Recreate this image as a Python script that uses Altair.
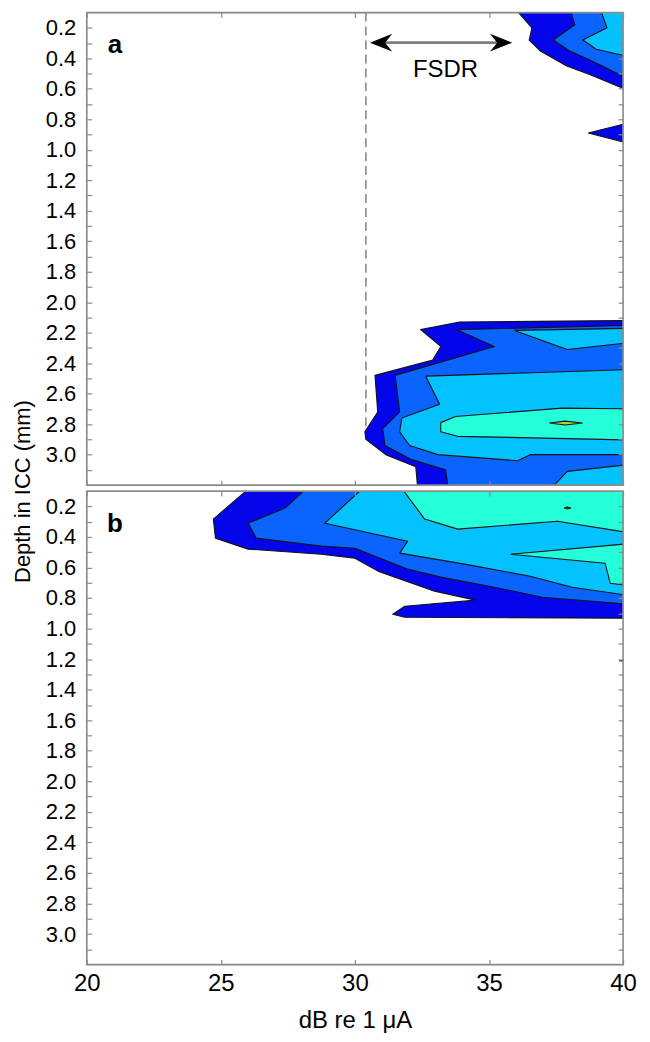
import altair as alt
import pandas as pd

FONT = "Liberation Sans"
GRAY = "#8c8c8c"

# ---------------- axes ----------------
X_DOMAIN = [20, 40]
Y_DOMAIN = [0.1, 3.2]
X_TICKS = [20, 25, 30, 35, 40]
Y_TICKS = [0.2, 0.3, 0.4, 0.5, 0.6, 0.7, 0.8, 0.9, 1.0, 1.1, 1.2, 1.3, 1.4, 1.5,
           1.6, 1.7, 1.8, 1.9, 2.0, 2.1, 2.2, 2.3, 2.4, 2.5, 2.6, 2.7, 2.8, 2.9,
           3.0, 3.1]

LEVEL_COLORS = ["#0505ec", "#0a64ff", "#04c2ff", "#24ffda", "#b2d23c"]

# ---------------- panel a contours (dB re 1 uA, depth mm) ----------------
A_L1_TOP_DB = [35.6, 36.6, 36.5, 36.9, 37.9, 38.8, 39.9, 40.5, 40.5]
A_L1_TOP_DEPTH = [0.0, 0.20, 0.28, 0.35, 0.45, 0.51, 0.59, 0.60, 0.0]
A_L2_TOP_DB = [37.9, 38.2, 37.4, 38.0, 39.0, 39.9, 40.5, 40.5]
A_L2_TOP_DEPTH = [0.0, 0.18, 0.28, 0.35, 0.43, 0.51, 0.52, 0.0]
A_L3_TOP_DB = [39.0, 39.4, 38.5, 39.0, 40.5, 40.5]
A_L3_TOP_DEPTH = [0.0, 0.20, 0.28, 0.34, 0.40, 0.0]
A_L1_SPOT_DB = [38.7, 40.5, 40.5]
A_L1_SPOT_DEPTH = [0.89, 0.81, 0.97]

A_L1_LOW_DB = [40.5, 33.9, 32.45, 33.2, 32.9, 30.75, 30.85, 30.37, 30.41, 31.15,
               32.27, 32.38, 40.5]
A_L1_LOW_DEPTH = [2.12, 2.13, 2.18, 2.29, 2.38, 2.48, 2.72, 2.85, 2.90, 3.00,
                  3.08, 3.30, 3.30]
A_L2_LOW_DB = [40.5, 33.8, 35.2, 31.5, 31.67, 31.04, 31.12, 32.08, 33.38, 33.55, 40.5]
A_L2_LOW_DEPTH = [2.15, 2.18, 2.29, 2.48, 2.72, 2.83, 2.94, 3.03, 3.10, 3.30, 3.30]
A_L3_SLIVER_DB = [35.95, 37.92, 40.5, 40.5]
A_L3_SLIVER_DEPTH = [2.185, 2.31, 2.26, 2.17]
A_L3_MAIN_DB = [32.64, 40.5, 40.5, 36.54, 36.06, 33.09, 32.04, 31.67, 31.75, 33.16]
A_L3_MAIN_DEPTH = [2.485, 2.44, 3.00, 3.00, 3.04, 3.00, 2.94, 2.85, 2.76, 2.67]
A_L3_CORNER_DB = [36.9, 37.92, 40.5, 40.5]
A_L3_CORNER_DEPTH = [3.30, 3.11, 3.06, 3.30]
A_L4_DB = [33.2, 33.75, 37.73, 40.5, 40.5, 36.62, 33.83, 33.2]
A_L4_DEPTH = [2.79, 2.75, 2.695, 2.70, 2.905, 2.89, 2.88, 2.85]
A_L5_DB = [37.25, 37.84, 38.48, 37.84]
A_L5_DEPTH = [2.793, 2.78, 2.793, 2.806]

# ---------------- panel b contours ----------------
B_L1_DB = [26.6, 24.72, 24.8, 26.02, 28.74, 30.0, 30.86, 32.97, 34.5, 31.86, 31.41,
           31.86, 40.5, 40.5]
B_L1_DEPTH = [0.0, 0.283, 0.408, 0.48, 0.513, 0.539, 0.624, 0.755, 0.814, 0.854,
              0.906, 0.926, 0.932, 0.0]
B_L1_SPECK_DB = [39.85, 40.5, 40.5]
B_L1_SPECK_DEPTH = [1.21, 1.20, 1.22]
B_L2_DB = [28.7, 27.4, 26.02, 26.32, 28.74, 30.0, 31.97, 33.2, 35.2, 36.99, 40.5, 40.5]
B_L2_DEPTH = [0.0, 0.211, 0.31, 0.408, 0.46, 0.474, 0.611, 0.663, 0.729, 0.795,
              0.845, 0.0]
B_L3_DB = [30.8, 28.88, 31.97, 31.67, 34.09, 36.54, 38.1, 40.5, 40.5]
B_L3_DEPTH = [0.0, 0.31, 0.428, 0.506, 0.578, 0.657, 0.729, 0.79, 0.0]
B_L4_TOP_DB = [31.4, 32.6, 33.83, 37.55, 40.5, 40.5]
B_L4_TOP_DEPTH = [0.0, 0.283, 0.349, 0.297, 0.38, 0.0]
B_L4_TONGUE_DB = [35.8, 40.5, 40.5, 39.52, 39.33]
B_L4_TONGUE_DEPTH = [0.513, 0.44, 0.725, 0.703, 0.572]
B_L5_DB = [37.8, 37.92, 38.05, 37.92]
B_L5_DEPTH = [0.211, 0.205, 0.211, 0.217]

# ---------------- annotations ----------------
THRESHOLD_DB = 30.41
THRESHOLD_DEPTH = [0.1, 2.88]
ARROW_DB = [30.56, 35.87]
ARROW_DEPTH = 0.297
FSDR_POS = [33.38, 0.52]
PANEL_LABELS = ["a", "b"]
PANEL_LABEL_POS = [21.05, 0.365]

POLYGONS = [
    ("a", 1, A_L1_TOP_DB, A_L1_TOP_DEPTH),
    ("a", 1, A_L1_SPOT_DB, A_L1_SPOT_DEPTH),
    ("a", 1, A_L1_LOW_DB, A_L1_LOW_DEPTH),
    ("a", 2, A_L2_TOP_DB, A_L2_TOP_DEPTH),
    ("a", 2, A_L2_LOW_DB, A_L2_LOW_DEPTH),
    ("a", 3, A_L3_TOP_DB, A_L3_TOP_DEPTH),
    ("a", 3, A_L3_SLIVER_DB, A_L3_SLIVER_DEPTH),
    ("a", 3, A_L3_MAIN_DB, A_L3_MAIN_DEPTH),
    ("a", 3, A_L3_CORNER_DB, A_L3_CORNER_DEPTH),
    ("a", 4, A_L4_DB, A_L4_DEPTH),
    ("a", 5, A_L5_DB, A_L5_DEPTH),
    ("b", 1, B_L1_DB, B_L1_DEPTH),
    ("b", 1, B_L1_SPECK_DB, B_L1_SPECK_DEPTH),
    ("b", 2, B_L2_DB, B_L2_DEPTH),
    ("b", 3, B_L3_DB, B_L3_DEPTH),
    ("b", 4, B_L4_TOP_DB, B_L4_TOP_DEPTH),
    ("b", 4, B_L4_TONGUE_DB, B_L4_TONGUE_DEPTH),
    ("b", 5, B_L5_DB, B_L5_DEPTH),
]

rows = []
for pid, (panel, level, xs, ys) in enumerate(POLYGONS):
    pts = list(zip(xs, ys)) + [(xs[0], ys[0])]
    for i, (x, y) in enumerate(pts):
        rows.append({"panel": panel, "level": level, "poly": pid, "i": i, "db": x, "depth": y})
contours = pd.DataFrame(rows)

X_SCALE = alt.Scale(domain=X_DOMAIN, nice=False, zero=False)
Y_SCALE = alt.Scale(domain=Y_DOMAIN, reverse=True, nice=False, zero=False)

frame_df = pd.DataFrame({"x0": [X_DOMAIN[0]], "x1": [X_DOMAIN[1]],
                         "y0": [Y_DOMAIN[0]], "y1": [Y_DOMAIN[1]]})

LABEL_EXPR = "round(datum.value*10) % 2 == 0 ? format(datum.value, '.1f') : ''"


def contour_layers(panel):
    layers = []
    for lev in range(1, 6):
        sub = contours[(contours.panel == panel) & (contours.level == lev)]
        if sub.empty:
            continue
        layers.append(
            alt.Chart(sub).mark_line(
                fill=LEVEL_COLORS[lev - 1], stroke="#141414", strokeWidth=1.1,
                clip=True, strokeJoin="round"
            ).encode(
                x=alt.X("db:Q", scale=X_SCALE, axis=None),
                y=alt.Y("depth:Q", scale=Y_SCALE, axis=None),
                detail="poly:N",
                order="i:Q",
            )
        )
    return layers


def frame_layers(bottom_panel):
    common = dict(offset=-5, tickSize=5, domain=False, grid=False, tickColor=GRAY,
                  tickWidth=1.2, zindex=1, labelFont=FONT,
                  labelColor="black", titleFont=FONT,
                  titleFontWeight="normal", titleColor="black")
    if bottom_panel:
        xa = alt.Axis(orient="bottom", values=X_TICKS, labels=True, labelFlush=False,
                      labelFontSize=24, labelPadding=7, title="dB re 1 μA",
                      titleFontSize=24, titlePadding=13, **common)
        ya = alt.Axis(orient="left", values=Y_TICKS, labelExpr=LABEL_EXPR,
                      labelFontSize=22, labelPadding=11, labelOverlap=False,
                      title=None, **common)
    else:
        xa = alt.Axis(orient="bottom", values=X_TICKS, labels=False, title=None, **common)
        ya = alt.Axis(orient="left", values=Y_TICKS, labelExpr=LABEL_EXPR,
                      labelFontSize=22, labelPadding=11, labelOverlap=False,
                      title="Depth in ICC (mm)", titleFontSize=22,
                      titleY=480, titlePadding=11, **common)
    frame = alt.Chart(frame_df).mark_rect(
        fillOpacity=0, stroke=GRAY, strokeWidth=1.6
    ).encode(
        x=alt.X("x0:Q", scale=X_SCALE, axis=xa),
        x2="x1:Q",
        y=alt.Y("y0:Q", scale=Y_SCALE, axis=ya),
        y2="y1:Q",
    )
    xa2 = alt.Axis(orient="top", values=X_TICKS, labels=False, title=None, **common)
    ya2 = alt.Axis(orient="right", values=Y_TICKS, labels=False, title=None, **common)
    ghost = alt.Chart(frame_df).mark_rect(opacity=0).encode(
        x=alt.X("x0:Q", scale=X_SCALE, axis=xa2),
        x2="x1:Q",
        y=alt.Y("y0:Q", scale=Y_SCALE, axis=ya2),
        y2="y1:Q",
    )
    return [frame, ghost]


def panel_label(idx):
    df = pd.DataFrame({"x": [PANEL_LABEL_POS[0]], "y": [PANEL_LABEL_POS[1]],
                       "t": [PANEL_LABELS[idx]]})
    return alt.Chart(df).mark_text(
        font=FONT, fontSize=26, fontWeight="bold", color="black",
        align="center", baseline="alphabetic"
    ).encode(
        x=alt.X("x:Q", scale=X_SCALE, axis=None),
        y=alt.Y("y:Q", scale=Y_SCALE, axis=None),
        text="t:N",
    )


# threshold dashed line (panel a)
thr_df = pd.DataFrame({"x": [THRESHOLD_DB], "y": [THRESHOLD_DEPTH[0]], "y2": [THRESHOLD_DEPTH[1]]})
threshold = alt.Chart(thr_df).mark_rule(
    color="#8a8a8a", strokeWidth=1.6, strokeDash=[9, 5]
).encode(
    x=alt.X("x:Q", scale=X_SCALE, axis=None),
    y=alt.Y("y:Q", scale=Y_SCALE, axis=None),
    y2="y2:Q",
)

arrow_df = pd.DataFrame({"x": [ARROW_DB[0] + 0.5], "x2": [ARROW_DB[1] - 0.5], "y": [ARROW_DEPTH]})
shaft = alt.Chart(arrow_df).mark_rule(color="#7d7d7d", strokeWidth=2.8).encode(
    x=alt.X("x:Q", scale=X_SCALE, axis=None),
    x2="x2:Q",
    y=alt.Y("y:Q", scale=Y_SCALE, axis=None),
)
head_l_df = pd.DataFrame({"x": [ARROW_DB[0]], "y": [ARROW_DEPTH]})
head_r_df = pd.DataFrame({"x": [ARROW_DB[1]], "y": [ARROW_DEPTH]})
head_l = alt.Chart(head_l_df).mark_point(
    shape="M0,0L1,-0.4L0.68,0L1,0.4Z", size=2000, filled=True, color="black", opacity=1
).encode(
    x=alt.X("x:Q", scale=X_SCALE, axis=None),
    y=alt.Y("y:Q", scale=Y_SCALE, axis=None),
)
head_r = alt.Chart(head_r_df).mark_point(
    shape="M0,0L-1,-0.4L-0.68,0L-1,0.4Z", size=2000, filled=True, color="black", opacity=1
).encode(
    x=alt.X("x:Q", scale=X_SCALE, axis=None),
    y=alt.Y("y:Q", scale=Y_SCALE, axis=None),
)
fsdr_df = pd.DataFrame({"x": [FSDR_POS[0]], "y": [FSDR_POS[1]], "t": ["FSDR"]})
fsdr = alt.Chart(fsdr_df).mark_text(
    font=FONT, fontSize=24, color="black", align="center", baseline="alphabetic"
).encode(
    x=alt.X("x:Q", scale=X_SCALE, axis=None),
    y=alt.Y("y:Q", scale=Y_SCALE, axis=None),
    text="t:N",
)

panel_a = alt.layer(
    threshold, *contour_layers("a"), shaft, head_l, head_r, fsdr, panel_label(0),
    *frame_layers(False)
).resolve_axis(x="independent", y="independent").properties(width=538, height=474)

panel_b = alt.layer(
    *contour_layers("b"), panel_label(1), *frame_layers(True)
).resolve_axis(x="independent", y="independent").properties(width=538, height=475)

chart = alt.vconcat(panel_a, panel_b, spacing=6, bounds="flush").properties(
    padding={"left": 2, "top": 1, "right": 5, "bottom": 0}
).configure_view(strokeWidth=0).configure(background="white")

chart.save("out.html", embed_options={"renderer": "svg", "actions": False})
